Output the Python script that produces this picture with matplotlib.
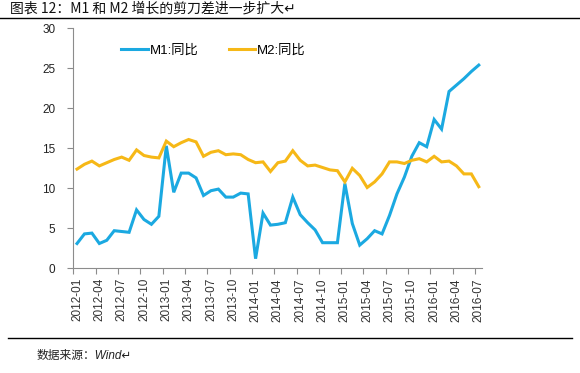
import matplotlib
matplotlib.use("Agg")
import matplotlib.pyplot as plt
from matplotlib.lines import Line2D
import numpy as np

plt.rcParams['font.family'] = ['Liberation Sans', 'Noto Sans CJK SC', 'DejaVu Sans']

months = [f"{y}-{m:02d}" for y in range(2012, 2017) for m in range(1, 13)][:55]

m1 = [3.1, 4.3, 4.4, 3.1, 3.5, 4.7, 4.6, 4.5, 7.3, 6.1, 5.5, 6.5,
      15.3, 9.5, 11.9, 11.9, 11.3, 9.1, 9.7, 9.9, 8.9, 8.9, 9.4, 9.3,
      1.2, 6.9, 5.4, 5.5, 5.7, 8.9, 6.7, 5.7, 4.8, 3.2, 3.2, 3.2,
      10.6, 5.6, 2.9, 3.7, 4.7, 4.3, 6.6, 9.3, 11.4, 14.0, 15.7, 15.2,
      18.6, 17.4, 22.1, 22.9, 23.7, 24.6, 25.4]
m2 = [12.4, 13.0, 13.4, 12.8, 13.2, 13.6, 13.9, 13.5, 14.8, 14.1, 13.9, 13.8,
      15.9, 15.2, 15.7, 16.1, 15.8, 14.0, 14.5, 14.7, 14.2, 14.3, 14.2, 13.6,
      13.2, 13.3, 12.1, 13.2, 13.4, 14.7, 13.5, 12.8, 12.9, 12.6, 12.3, 12.2,
      10.8, 12.5, 11.6, 10.1, 10.8, 11.8, 13.3, 13.3, 13.1, 13.5, 13.7, 13.3,
      14.0, 13.3, 13.4, 12.8, 11.8, 11.8, 10.2]

series_names = ["M1:同比", "M2:同比"]
title = "图表 12：M1 和 M2 增长的剪刀差进一步扩大↵"
source = "数据来源：Wind↵"

W, H = 580, 373
fig = plt.figure(figsize=(W / 100, H / 100), dpi=100)
ax = fig.add_axes([73.3 / W, 1 - 268.3 / H, (482.5 - 73.3) / W, 240 / H])

x = np.arange(len(months))
blue = '#1BA9E1'
gold = '#F6B817'
ax.plot(x, m1, color=blue, lw=2.2, label=series_names[0], solid_joinstyle='miter')
ax.plot(x, m2, color=gold, lw=2.2, label=series_names[1], solid_joinstyle='miter')

ax.set_xlim(-0.5, len(months) - 0.5)
ax.set_ylim(0, 30)
ax.set_yticks(np.arange(0, 31, 5))
ax.tick_params(axis='y', length=4, width=0.8, color='#8c8c8c', labelsize=8.5, pad=9, labelcolor='#222222')

lab_idx = list(range(0, len(months), 3))
ax.set_xticks(lab_idx)
ax.set_xticklabels([months[i] for i in lab_idx], rotation=90, fontsize=8.5, color='#333333')
ax.tick_params(axis='x', length=0, pad=7)
ax.set_xticks(np.arange(-0.5, len(months), 3), minor=True)
ax.tick_params(axis='x', which='minor', length=4, width=0.8, color='#8c8c8c')

for s in ['top', 'right']:
    ax.spines[s].set_visible(False)
for s in ['left', 'bottom']:
    ax.spines[s].set_color('#8c8c8c')
    ax.spines[s].set_linewidth(0.8)

leg = ax.legend(loc='upper left', bbox_to_anchor=(48 / 409.2, 1 - 16 / 240), ncol=2, frameon=False,
                fontsize=9.5, handlelength=2.0, handletextpad=0.15, columnspacing=2.3,
                borderaxespad=0, borderpad=0)

fig.text(10 / W, 1 - 9 / H, title, fontsize=10, va='center', ha='left', color='#111111',
         family=['Noto Sans CJK SC', 'DejaVu Sans'])
fig.add_artist(Line2D([0, 580 / W], [1 - 17.5 / H, 1 - 17.5 / H], color='black', lw=1.0))
fig.add_artist(Line2D([8 / W, 572 / W], [1 - 337.5 / H, 1 - 337.5 / H], color='black', lw=1.0))
fig.text(37 / W, 1 - 356 / H, source, fontsize=8.5, va='center', ha='left', color='#222222',
         style='italic', family=['Liberation Sans', 'Noto Sans CJK SC', 'DejaVu Sans'])

fig.savefig('out.png', dpi=100)
